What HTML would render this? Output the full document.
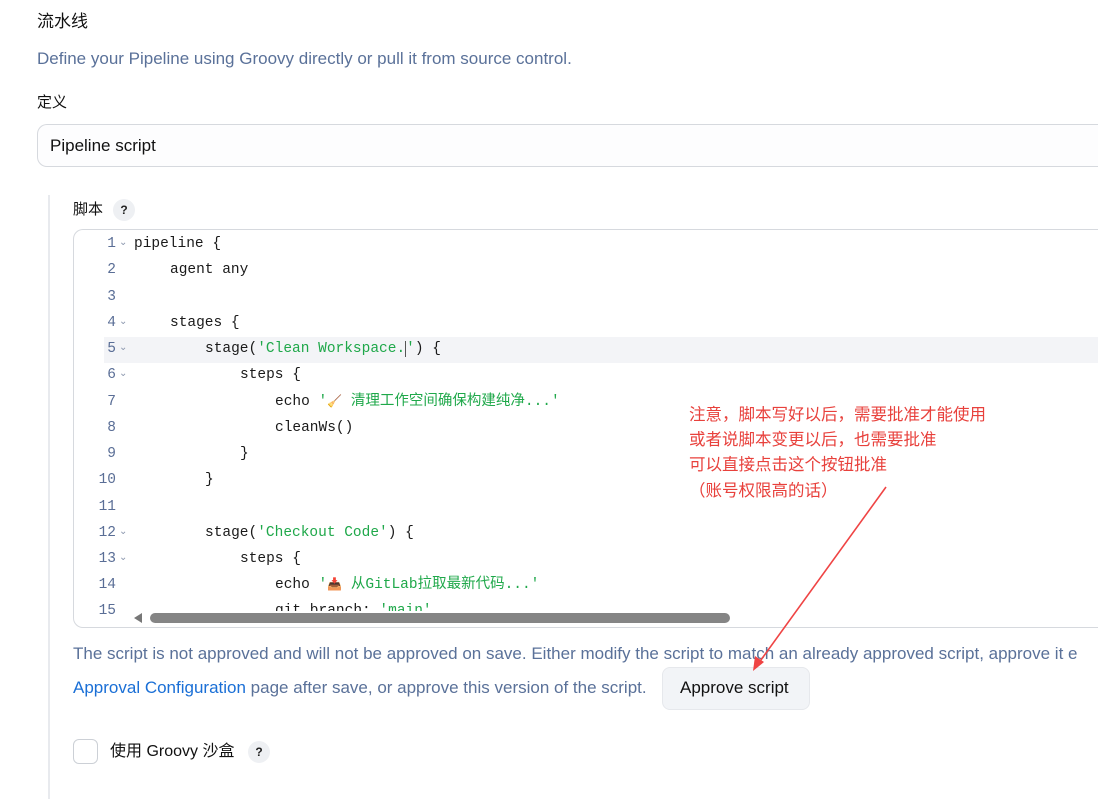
<!DOCTYPE html>
<html><head><meta charset="utf-8"><style>
body{margin:0;width:1098px;height:799px;background:#fff;position:relative;overflow:hidden;font-family:"Liberation Sans","Noto Sans CJK SC",sans-serif;}
.a{position:absolute;white-space:nowrap;line-height:20px;}
.code{font-family:"Liberation Mono","Noto Sans CJK SC",monospace;font-size:14.5px;color:#1a1a1a;line-height:18px;height:18px;}
.ln{font-family:"Liberation Mono",monospace;font-size:14.5px;color:#5a6e96;text-align:right;width:42px;line-height:18px;}
.s{color:#1fa84a;}
.e{font-size:12px;line-height:12px;}
.chev{position:absolute;font-size:10px;color:#8a96ad;}
.red{color:#e8413c;font-size:16.5px;font-family:"Noto Sans CJK SC",sans-serif;}
.t{font-size:17px;}
</style></head><body>
<div class="a" style="left:37px;top:10px;font-size:17px;color:#111;font-family:'Noto Sans CJK SC',sans-serif">流水线</div>
<div class="a t" style="left:37px;top:49px;color:#5a7199">Define your Pipeline using Groovy directly or pull it from source control.</div>
<div class="a" style="left:37px;top:92px;font-size:15px;color:#111;font-family:'Noto Sans CJK SC',sans-serif">定义</div>
<div class="a" style="left:37px;top:124px;width:1061px;height:41px;border:1px solid #d6d9de;border-right:none;border-radius:10px 0 0 10px;background:#fdfdfe"></div>
<div class="a t" style="left:50px;top:136px;color:#111">Pipeline script</div>
<div class="a" style="left:48px;top:195px;width:2px;height:604px;background:#e8eaee"></div>
<div class="a" style="left:73px;top:199px;font-size:15px;color:#111;font-family:'Noto Sans CJK SC',sans-serif">脚本</div>
<div class="a" style="left:113px;top:199px;width:22px;height:22px;border-radius:11px;background:#eef0f3;font-size:12px;font-weight:bold;text-align:center;line-height:22px;color:#222">?</div>
<div class="a" style="left:73px;top:229px;width:1025px;height:397px;border:1px solid #d6d9de;border-right:none;border-radius:10px 0 0 10px;background:#fff;overflow:hidden">
 <div style="position:absolute;left:30px;top:107px;width:1000px;height:26px;background:#f3f4f7"></div>
</div>
<div class="a ln" style="left:74px;top:235px">1</div><div class="chev" style="left:119px;top:237px">&#8964;</div>
<div class="a ln" style="left:74px;top:261px">2</div>
<div class="a ln" style="left:74px;top:288px">3</div>
<div class="a ln" style="left:74px;top:314px">4</div><div class="chev" style="left:119px;top:316px">&#8964;</div>
<div class="a ln" style="left:74px;top:340px">5</div><div class="chev" style="left:119px;top:342px">&#8964;</div>
<div class="a ln" style="left:74px;top:366px">6</div><div class="chev" style="left:119px;top:368px">&#8964;</div>
<div class="a ln" style="left:74px;top:393px">7</div>
<div class="a ln" style="left:74px;top:419px">8</div>
<div class="a ln" style="left:74px;top:445px">9</div>
<div class="a ln" style="left:74px;top:471px">10</div>
<div class="a ln" style="left:74px;top:498px">11</div>
<div class="a ln" style="left:74px;top:524px">12</div><div class="chev" style="left:119px;top:526px">&#8964;</div>
<div class="a ln" style="left:74px;top:550px">13</div><div class="chev" style="left:119px;top:552px">&#8964;</div>
<div class="a ln" style="left:74px;top:576px">14</div>
<div class="a ln" style="left:74px;top:602px">15</div>
<div class="a code" style="left:134px;top:235px">pipeline {</div>
<div class="a code" style="left:170px;top:261px">agent any</div>
<div class="a code" style="left:170px;top:314px">stages {</div>
<div class="a code" style="left:205px;top:340px">stage(<span class="s">'Clean Workspace.</span><span style="border-left:1px solid #555"></span><span class="s">'</span>) {</div>
<div class="a code" style="left:240px;top:366px">steps {</div>
<div class="a code" style="left:275px;top:393px">echo <span class="s">'<span class="e">🧹</span> 清理工作空间确保构建纯净...'</span></div>
<div class="a code" style="left:275px;top:419px">cleanWs()</div>
<div class="a code" style="left:240px;top:445px">}</div>
<div class="a code" style="left:205px;top:471px">}</div>
<div class="a code" style="left:205px;top:524px">stage(<span class="s">'Checkout Code'</span>) {</div>
<div class="a code" style="left:240px;top:550px">steps {</div>
<div class="a code" style="left:275px;top:576px">echo <span class="s">'<span class="e">📥</span> 从GitLab拉取最新代码...'</span></div>
<div class="a code" style="left:275px;top:602px;height:9px;overflow:hidden">git branch: <span class="s">'main'</span></div>
<div class="a" style="left:134px;top:613px;width:0;height:0;border-top:5px solid transparent;border-bottom:5px solid transparent;border-right:8px solid #777"></div>
<div class="a" style="left:150px;top:613px;width:580px;height:10px;border-radius:5px;background:#858585"></div>
<div class="a t" style="left:73px;top:644px;width:1025px;overflow:hidden;color:#5a7199">The script is not approved and will not be approved on save. Either modify the script to match an already approved script, approve it e</div>
<div class="a t" style="left:73px;top:678px;color:#5a7199"><span style="color:#1a6fd6">Approval Configuration</span> page after save, or approve this version of the script.</div>
<div class="a" style="left:662px;top:667px;width:146px;height:41px;border-radius:8px;background:#f2f4f7;border:1px solid #e6e8ec"></div>
<div class="a t" style="left:680px;top:678px;color:#111">Approve script</div>
<div class="a" style="left:73px;top:739px;width:23px;height:23px;border:1px solid #ccd0d6;border-radius:6px;background:#fff"></div>
<div class="a" style="left:110px;top:742px;font-size:16px;color:#111">使用 Groovy 沙盒</div>
<div class="a" style="left:248px;top:741px;width:22px;height:22px;border-radius:11px;background:#eef0f3;font-size:12px;font-weight:bold;text-align:center;line-height:22px;color:#222">?</div>
<div class="a red" style="left:689px;top:403px">注意，脚本写好以后，需要批准才能使用</div>
<div class="a red" style="left:689px;top:428px">或者说脚本变更以后，也需要批准</div>
<div class="a red" style="left:689px;top:453px">可以直接点击这个按钮批准</div>
<div class="a red" style="left:689px;top:479px">（账号权限高的话）</div>
<svg class="a" style="left:0;top:0" width="1098" height="799">
<line x1="886" y1="487" x2="758" y2="664" stroke="#ef4444" stroke-width="1.6"/>
<polygon points="753,671 755,656 764,662" fill="#ef4444"/>
</svg>
</body></html>
